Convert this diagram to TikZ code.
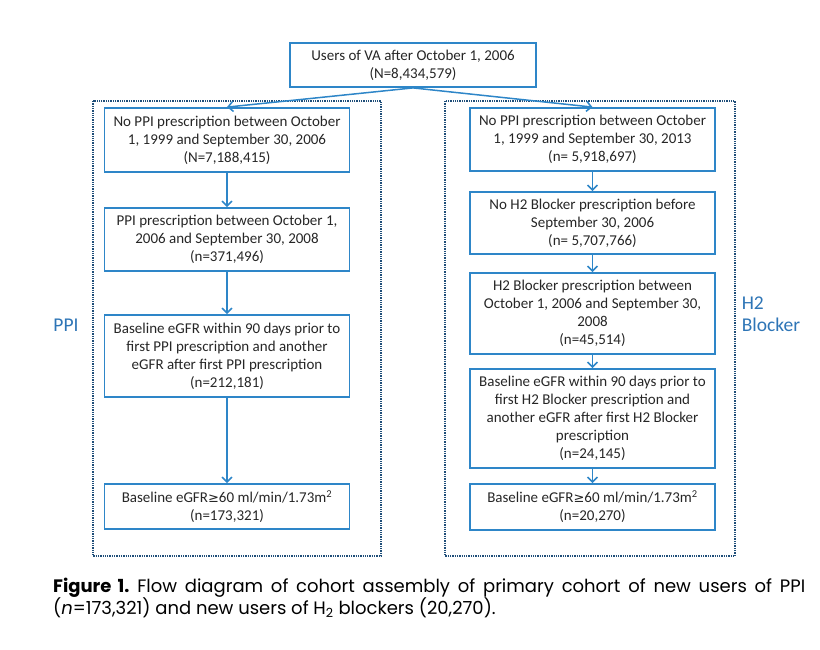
\documentclass[tikz,border=0pt]{standalone}
\usepackage{fontspec}
\setmainfont{Carlito}
\newfontfamily\capfont{Poppins}
\usetikzlibrary{arrows.meta}
\definecolor{boxblue}{HTML}{2E86C8}
\definecolor{framenavy}{HTML}{1F4E79}
\definecolor{labblue}{HTML}{2E75B6}
\definecolor{txt}{HTML}{262626}
\newcommand{\mygeq}{{\fontspec{DejaVu Sans}\fontsize{13}{18}\selectfont ≥}}
\tikzset{
  flowbox/.style={draw=boxblue, line width=1.8pt, minimum width=245pt, inner sep=0pt, align=center, text=txt, font=\fontsize{15}{18}\selectfont},
  frame/.style={draw=framenavy, line width=1.3pt, densely dotted},
  flowarrow/.style={draw=boxblue, line width=1.5pt, -{Straight Barb[length=5pt,width=10pt]}},
  sidelabel/.style={text=labblue, font=\fontsize{19.5}{22}\selectfont, align=left},
  captext/.style={anchor=base west, inner sep=0pt, text=black, font=\capfont\frenchspacing\fontsize{18}{22}\selectfont}
}
\begin{document}
\begin{tikzpicture}[x=1pt,y=-1pt]
\useasboundingbox (0,0) rectangle (820,649);
% frames
\draw[frame] (93,101) rectangle (381,556);
\draw[frame] (445,101) rectangle (735,556);
% top
\node[flowbox, minimum width=246pt, minimum height=44pt] (top) at (413,65) {Users of VA after October 1, 2006\\(N=8,434,579)};
% left
\node[flowbox, minimum height=64pt] (l1) at (227,140) {No PPI prescription between October\\1, 1999 and September 30, 2006\\(N=7,188,415)};
\node[flowbox, minimum height=63pt] (l2) at (227,239.5) {PPI prescription between October 1,\\2006 and September 30, 2008\\(n=371,496)};
\node[flowbox, minimum height=82pt] (l3) at (227,356) {Baseline eGFR within 90 days prior to\\first PPI prescription and another\\eGFR after first PPI prescription\\(n=212,181)};
\node[flowbox, minimum height=45pt] (l4) at (227,506.5) {Baseline eGFR\mygeq60 ml/min/1.73m\textsuperscript{2}\\(n=173,321)};
% right
\node[flowbox, minimum height=63pt] (r1) at (592.5,139.5) {No PPI prescription between October\\1, 1999 and September 30, 2013\\(n= 5,918,697)};
\node[flowbox, minimum height=62pt] (r2) at (592.5,223) {No H2 Blocker prescription before\\September 30, 2006\\(n= 5,707,766)};
\node[flowbox, minimum height=81pt] (r3) at (592.5,313.5) {H2 Blocker prescription between\\October 1, 2006 and September 30,\\2008\\(n=45,514)};
\node[flowbox, minimum height=99pt] (r4) at (592.5,418.5) {Baseline eGFR within 90 days prior to\\first H2 Blocker prescription and\\another eGFR after first H2 Blocker\\prescription\\(n=24,145)};
\node[flowbox, minimum height=46pt] (r5) at (592.5,507) {Baseline eGFR\mygeq60 ml/min/1.73m\textsuperscript{2}\\(n=20,270)};
% side labels
\node[sidelabel] (ppi) at (66,325) {PPI};
\node[sidelabel] (h2) at (771,314) {H2\\Blocker};
% arrows
\draw[flowarrow] (top.south) -- (l1.north);
\draw[flowarrow] (top.south) -- (r1.north);
\draw[flowarrow] (l1) -- (l2);
\draw[flowarrow] (l2) -- (l3);
\draw[flowarrow] (l3) -- (l4);
\draw[flowarrow] (r1) -- (r2);
\draw[flowarrow] (r2) -- (r3);
\draw[flowarrow] (r3) -- (r4);
\draw[flowarrow] (r4) -- (r5);
% caption
\node[captext] (cap1) at (53,592) {\makebox[752pt][s]{\textbf{Figure 1.} Flow diagram of cohort assembly of primary cohort of new users of PPI}};
\node[captext] (cap2) at (53,614) {(\textit{n}=173,321) and new users of H\textsubscript{2} blockers (20,270).};
\end{tikzpicture}
\end{document}
